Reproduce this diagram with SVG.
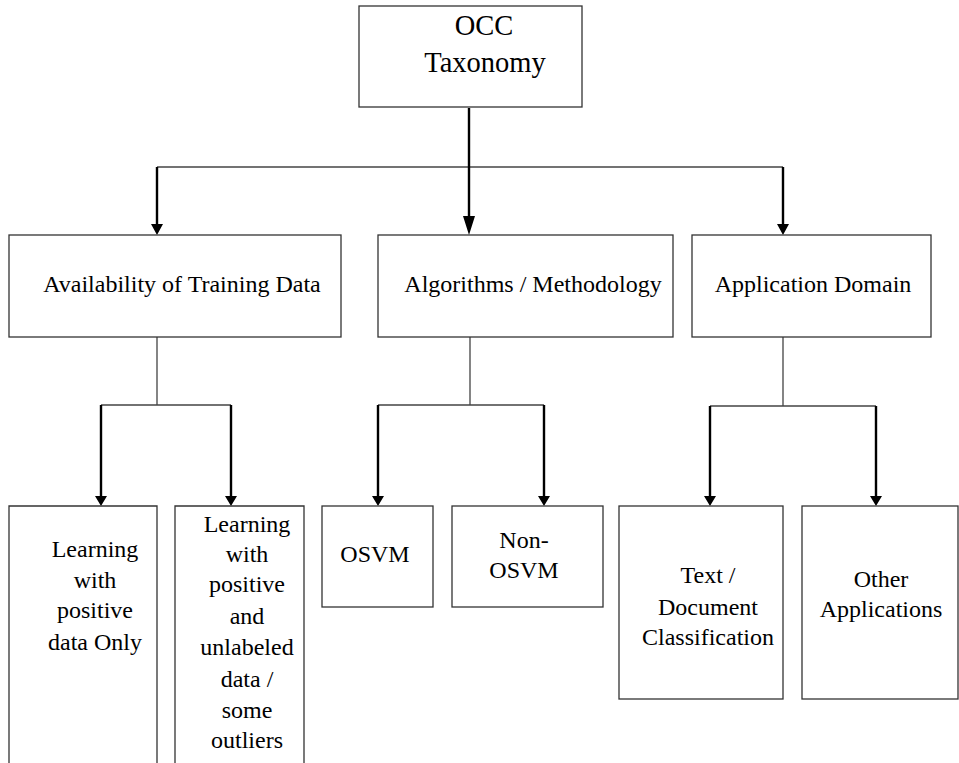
<svg xmlns="http://www.w3.org/2000/svg" width="959" height="763" viewBox="0 0 959 763" font-family="'Liberation Serif', 'Times New Roman', 'DejaVu Serif', serif">
<defs>
<style>
.box{fill:#fff;stroke:#333;stroke-width:1.3}
.t{font-family:'Liberation Serif','Times New Roman','DejaVu Serif',serif;font-size:24px;fill:#000;text-anchor:middle}
.thin{fill:none;stroke:#444;stroke-width:1.3}
.thick{fill:none;stroke:#000;stroke-width:2.4}
.head{fill:#000;stroke:none}
</style>
</defs>
<rect width="959" height="763" fill="#fff"/>
<g id="connectors">
<path class="thin" d="M157,167 H783"/>
<path class="thick" d="M469,108 V218 M157,167 V224 M783,167 V224"/>
<path class="head" d="M463,216 L475,216 L469,235 Z M151,224 L163,224 L157,235 Z M777,224 L789,224 L783,235 Z"/>
<path class="thin" d="M157,337 V405 M101,405 H231"/>
<path class="thin" d="M470,337 V405 M378,405 H544"/>
<path class="thin" d="M783,337 V406 M710,406 H876"/>
<path class="thick" d="M101,405 V497 M231,405 V497 M378,405 V497 M544,405 V497 M710,406 V497 M876,406 V497"/>
<path class="head" d="M95,496 L107,496 L101,506 Z M225,496 L237,496 L231,506 Z M372,496 L384,496 L378,506 Z M538,496 L550,496 L544,506 Z M704,496 L716,496 L710,506 Z M870,496 L882,496 L876,506 Z"/>
</g>
<g id="root">
<rect class="box" x="359" y="6" width="223" height="101"/>
<text class="t" font-size="28.5" style="font-size:28.5px" x="484" y="35">OCC</text>
<text class="t" font-size="28.5" style="font-size:28.5px" x="485" y="72">Taxonomy</text>
</g>
<g id="availability">
<rect class="box" x="9" y="235" width="332" height="102"/>
<text class="t" x="182" y="292">Availability of Training Data</text>
</g>
<g id="algorithms">
<rect class="box" x="378" y="235" width="295" height="102"/>
<text class="t" x="533" y="292">Algorithms / Methodology</text>
</g>
<g id="application">
<rect class="box" x="692" y="235" width="239" height="102"/>
<text class="t" x="813" y="292">Application Domain</text>
</g>
<g id="positive-only">
<path class="box" d="M9,764 V506 H157 V764"/>
<text class="t" x="95" y="557">Learning</text>
<text class="t" x="95" y="588">with</text>
<text class="t" x="95" y="618">positive</text>
<text class="t" x="95" y="650">data Only</text>
</g>
<g id="positive-unlabeled">
<path class="box" d="M175,764 V506 H304 V764"/>
<text class="t" x="247" y="532">Learning</text>
<text class="t" x="247" y="562">with</text>
<text class="t" x="247" y="592">positive</text>
<text class="t" x="247" y="624">and</text>
<text class="t" x="247" y="655">unlabeled</text>
<text class="t" x="247" y="687">data /</text>
<text class="t" x="247" y="718">some</text>
<text class="t" x="247" y="748">outliers</text>
</g>
<g id="osvm">
<rect class="box" x="322" y="506" width="111" height="101"/>
<text class="t" x="375" y="562">OSVM</text>
</g>
<g id="non-osvm">
<rect class="box" x="452" y="506" width="151" height="101"/>
<text class="t" x="524" y="548">Non-</text>
<text class="t" x="524" y="578">OSVM</text>
</g>
<g id="text-doc">
<rect class="box" x="619" y="506" width="164" height="193"/>
<text class="t" x="708" y="583">Text /</text>
<text class="t" x="708" y="615">Document</text>
<text class="t" x="708" y="645">Classification</text>
</g>
<g id="other-apps">
<rect class="box" x="802" y="506" width="156" height="193"/>
<text class="t" x="881" y="587">Other</text>
<text class="t" x="881" y="617">Applications</text>
</g>
</svg>
